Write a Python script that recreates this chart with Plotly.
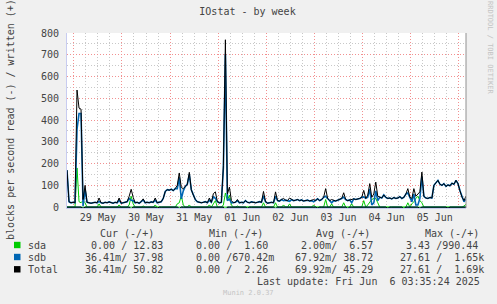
import plotly.graph_objects as go
import pandas as pd

# ---- data (blocks per second, hourly samples) ----
start_time = "2025-05-28 20:35:24"
end_time = "2025-06-06 03:35:24"

total_write = [
    170, 25, 20, 22, 20, 538, 455, 450, 35, 100,
    22, 20, 18, 20, 22, 20, 42, 20, 18, 22,
    20, 24, 20, 18, 22, 20, 42, 18, 20, 22,
    25, 50, 82, 45, 20, 22, 18, 25, 38, 20,
    22, 20, 24, 22, 42, 20, 22, 25, 40, 72,
    80, 78, 82, 76, 85, 100, 157, 90, 85, 95,
    105, 160, 80, 55, 35, 25, 22, 20, 22, 25,
    20, 42, 22, 62, 70, 25, 20, 22, 190, 769,
    60, 92, 30, 20, 22, 35, 20, 22, 20, 30,
    22, 20, 24, 22, 20, 22, 25, 22, 72, 25,
    18, 20, 22, 20, 70, 30, 28, 35, 40, 32,
    30, 42, 34, 30, 32, 35, 30, 33, 28, 30,
    32, 28, 30, 35, 30, 38, 30, 35, 45, 85,
    40, 30, 35, 30, 28, 32, 35, 40, 66, 35,
    30, 33, 35, 38, 35, 37, 40, 45, 77, 40,
    55, 108, 45, 60, 115, 50, 45, 42, 56, 45,
    40, 42, 38, 44, 40, 42, 48, 40, 45, 60,
    85, 45, 40, 85, 50, 60, 70, 161, 50, 42,
    40, 44, 42, 100, 110, 123, 105, 100, 108, 95,
    102, 98, 110, 105, 123, 108, 75, 46, 30, 50.82,
]

sda_write = [
    0, 0, 0, 0, 0, 180, 25, 20, 30, 20,
    0, 0, 0, 0, 0, 0, 15, 0, 0, 0,
    0, 0, 0, 0, 0, 0, 10, 0, 0, 0,
    0, 10, 50, 15, 0, 0, 0, 0, 5, 0,
    0, 0, 0, 0, 10, 0, 0, 0, 0, 0,
    0, 0, 0, 0, 0, 15, 20, 52, 10, 0,
    0, 10, 0, 0, 0, 0, 0, 0, 0, 0,
    0, 10, 0, 15, 30, 0, 0, 0, 10, 65,
    30, 55, 10, 0, 0, 5, 0, 0, 0, 0,
    0, 0, 0, 0, 0, 0, 0, 0, 20, 0,
    0, 0, 0, 0, 20, 0, 0, 0, 10, 0,
    0, 15, 0, 0, 0, 0, 0, 0, 0, 0,
    0, 0, 0, 10, 0, 0, 0, 0, 0, 35,
    0, 0, 15, 0, 0, 0, 0, 0, 20, 0,
    0, 0, 15, 0, 0, 0, 0, 0, 30, 0,
    10, 25, 35, 40, 40, 20, 0, 0, 0, 0,
    0, 0, 0, 0, 0, 0, 0, 0, 0, 0,
    20, 0, 15, 25, 40, 50, 30, 20, 0, 0,
    0, 0, 0, 0, 0, 0, 0, 0, 0, 0,
    0, 0, 0, 0, 0, 0, 0, 0, 5, 12.83,
]

# sparse read activity on sdb (hour index, blocks/s)
sdb_read_hours = [8, 32, 45, 56, 79, 90, 104, 125, 140, 160, 168, 176, 190]
sdb_read_vals = [6, 8, 5, 7, 27.61, 6, 8, 5, 7, 6, 8, 6, 5]

series_names = ["sda", "sdb", "Total"]
series_colors = ["#00CC00", "#0066B3", "#000000"]

legend_header = ["Cur (-/+)", "Min (-/+)", "Avg (-/+)", "Max (-/+)"]
legend_cur = ["  0.00 / 12.83 ", " 36.41m/ 37.98 ", " 36.41m/ 50.82 "]
legend_min = ["  0.00 /  1.60 ", "  0.00 /670.42m", "  0.00 /  2.26 "]
legend_avg = ["  2.00m/  6.57 ", " 67.92m/ 38.72 ", " 69.92m/ 45.29 "]
legend_max = ["  3.43 /990.44 ", " 27.61 /  1.65k", " 27.61 /  1.69k"]

# ---- derived series ----
n = len(total_write)
times = pd.date_range(start_time, periods=n, freq="h")
sdb_write = [t - a for t, a in zip(total_write, sda_write)]
sda_read = [0.0] * n
sdb_read = [0.0] * n
for h, v in zip(sdb_read_hours, sdb_read_vals):
    sdb_read[h] = v
total_read = [a + b for a, b in zip(sda_read, sdb_read)]

# ---- geometry helpers ----
W, H = 497, 304
L, R, T, B = 67, 466, 33, 208


def pxx(x):
    return (x - L) / (R - L)


def pxy(y):
    return (B - y) / (B - T)


FONT = "DejaVu Sans Mono"
TXT = "#444444"
DOT = "1px,2px"

fig = go.Figure()
reads = [sda_read, sdb_read, total_read]
writes = [sda_write, sdb_write, total_write]
widths = [1, 1.6, 1]
for name, col, rd, wr, lw in zip(series_names, series_colors, reads, writes, widths):
    fig.add_trace(go.Scatter(x=times, y=[-v for v in rd], mode="lines",
                             line=dict(color=col, width=1), name=name + " read",
                             hoverinfo="skip"))
    fig.add_trace(go.Scatter(x=times, y=wr, mode="lines",
                             line=dict(color=col, width=lw), name=name))

fig.update_layout(
    width=W, height=H, autosize=False,
    margin=dict(l=L, r=W - R, t=T, b=H - B, pad=0),
    paper_bgcolor="#F0F0F0", plot_bgcolor="#FFFFFF",
    showlegend=False,
    font=dict(family=FONT, size=10, color=TXT),
    title=dict(text="IOstat - by week", x=247.5 / W, y=1 - 11 / H,
               xanchor="center", yanchor="middle",
               font=dict(family=FONT, size=10, color=TXT)),
)

fig.update_xaxes(
    type="date", range=[start_time, end_time],
    tick0="2025-05-29", dtick=86400000, ticklabelmode="period",
    tickformat="%d %b", ticks="",
    showgrid=True, gridcolor="#F29090", griddash=DOT, gridwidth=1,
    minor=dict(tick0="2025-05-29", dtick=21600000, showgrid=True,
               gridcolor="#C8C8C8", griddash=DOT, gridwidth=1),
    showline=True, linecolor="#C8CCF0", linewidth=1,
    zeroline=False, tickfont=dict(family=FONT, size=10, color=TXT),
)
fig.update_yaxes(
    range=[-4, 800], tick0=0, dtick=100, ticks="",
    showgrid=True, gridcolor="#F29090", griddash=DOT, gridwidth=1,
    minor=dict(dtick=50, showgrid=True, gridcolor="#C8C8C8",
               griddash=DOT, gridwidth=1),
    showline=True, linecolor="#C8CCF0", linewidth=1,
    zeroline=False, ticklabelstandoff=5,
    tickfont=dict(family=FONT, size=10, color=TXT),
)

shapes = [dict(type="line", xref="paper", yref="paper", x0=1, x1=1, y0=0, y1=1,
               line=dict(color="#909090", width=1))]
annotations = []


def ann(text, x, y, xanchor="left", size=10, color=TXT, angle=0):
    annotations.append(dict(text=text, x=pxx(x), y=pxy(y), xref="paper", yref="paper",
                            xanchor=xanchor, yanchor="middle", showarrow=False,
                            textangle=angle,
                            font=dict(family=FONT, size=size, color=color)))


ann("blocks per second read (-) / written (+)", 10, 120, xanchor="center", angle=-90)
ann("RRDTOOL / TOBI OETIKER", 490, 48, xanchor="center", size=7, color="#C4C4C4", angle=90)

header_x = [97.7, 206.7, 314, 422.7]
for hx, ht in zip(header_x, legend_header):
    ann(ht.replace(" ", "&nbsp;"), hx, 233.3)

row_y = [245, 257, 269.3]
col_x = [76.7, 181.7, 286.7, 391.7]
cols = [legend_cur, legend_min, legend_avg, legend_max]
for i, (name, col) in enumerate(zip(series_names, series_colors)):
    y = row_y[i]
    shapes.append(dict(type="rect", xref="paper", yref="paper",
                       x0=pxx(14), x1=pxx(20.5), y0=pxy(y + 3.2), y1=pxy(y - 3.2),
                       fillcolor=col, line=dict(width=0)))
    ann(name, 26, y)
    for cx, c in zip(col_x, cols):
        ann(c[i].replace(" ", "&nbsp;"), cx, y)

ann("Last&nbsp;update:&nbsp;Fri&nbsp;Jun&nbsp;&nbsp;6&nbsp;03:35:24&nbsp;2025", 482.3, 281.3, xanchor="right")
ann("Munin 2.0.37", 248, 293, xanchor="center", size=7, color="#C4C4C4")

fig.update_layout(shapes=shapes, annotations=annotations)
fig.write_html("out.html")
